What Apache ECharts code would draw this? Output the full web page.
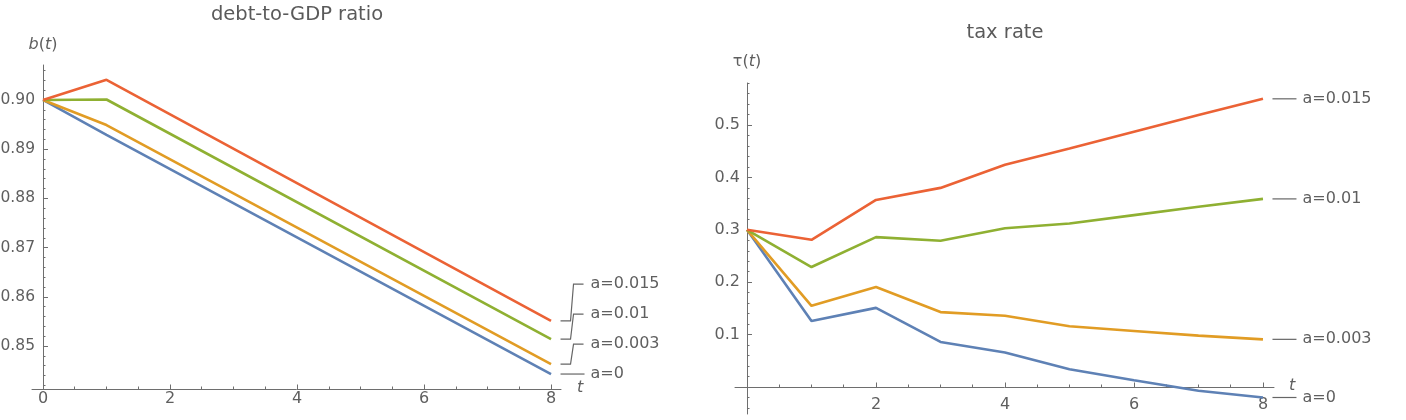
<!DOCTYPE html>
<html>
<head>
<meta charset="utf-8">
<script src="https://cdn.jsdelivr.net/npm/echarts@6/dist/echarts.min.js"></script>
<style>
  html, body { margin: 0; padding: 0; background: #fff; }
  #chart { width: 1406px; height: 420px; }
</style>
</head>
<body>
<div id="chart"></div>
<script>
// ---------- data ----------
const seriesNames = ['a=0', 'a=0.003', 'a=0.01', 'a=0.015'];
const seriesColors = ['#5E81B5', '#E19C24', '#8FB032', '#EB6235'];

// debt-to-GDP ratio b(t) (straight segments: vertices at t = 0, 1, 8)
const tDebt = [0, 1, 8];
const debtA0    = [0.9000, 0.8929, 0.8443];
const debtA003  = [0.9000, 0.8949, 0.8463];
const debtA01   = [0.9000, 0.9001, 0.8514];
const debtA015  = [0.9000, 0.9041, 0.8551];

// tax rate tau(t)
const tTax = [0, 1, 2, 3, 4, 5, 6, 7, 8];
const taxA0   = [0.300, 0.126, 0.151, 0.086, 0.066, 0.034, 0.013, -0.007, -0.020];
const taxA003 = [0.300, 0.155, 0.191, 0.143, 0.136, 0.116, 0.107, 0.098, 0.091];
const taxA01  = [0.300, 0.229, 0.286, 0.279, 0.303, 0.312, 0.328, 0.344, 0.359];
const taxA015 = [0.300, 0.281, 0.357, 0.380, 0.424, 0.455, 0.487, 0.519, 0.550];

// tick labels
const debtXTicks = [0, 2, 4, 6, 8];
const debtYTicks = [0.85, 0.86, 0.87, 0.88, 0.89, 0.90];
const taxXTicks = [2, 4, 6, 8];
const taxYTicks = [0.1, 0.2, 0.3, 0.4, 0.5];

// minor tick steps
function steps(from, to, step) {
  const out = [];
  const n = Math.round((to - from) / step);
  for (let i = 0; i <= n; i++) out.push(+(from + i * step).toFixed(6));
  return out;
}
const debtXMinor = steps(0, 8, 0.5);
const debtYMinor = steps(0.842, 0.906, 0.002);
const taxXMinor = steps(0, 8, 0.5);
const taxYMinor = steps(-0.04, 0.58, 0.02);

// ---------- styling ----------
const FONT = '"DejaVu Sans", "Liberation Sans", sans-serif';
const TXT = '#5f5f5f';
const AX = '#6e6e6e';

const chart = echarts.init(document.getElementById('chart'), null, { renderer: 'canvas' });

// full plot frames (axes extend slightly past the data)
const gridLeft = { left: 32, top: 65, width: 529, height: 324 };
const gridRight = { left: 735, top: 83, width: 539, height: 331 };
// label frames: their left/bottom edges sit on the crossing axes (x = 0, tau = 0)
const gridLeftLab = { left: 43, top: 65, width: 518, height: 324 };
const gridRightLab = { left: 747, top: 83, width: 527, height: 304 };

const debtXRange = [-0.173, 8.157];
const debtYRange = [0.84126, 0.90711];
const taxXRange = [-0.186, 8.171];
const taxYRange = [-0.0515, 0.5802];
const debtXRangeLab = [0, 8.157];
const taxXRangeLab = [0, 8.171];
const taxYRangeLab = [0, 0.5802];

function baseAxis(gridIndex, range, position) {
  return { type: 'value', gridIndex, min: range[0], max: range[1], position, splitLine: { show: false } };
}
function lineAxis(gridIndex, range, position, ticks, tickLen, nameRich, nameGap, isX) {
  const a = baseAxis(gridIndex, range, position);
  a.axisLine = { show: true, onZero: true, lineStyle: { color: AX, width: 1 } };
  a.axisTick = { show: true, inside: true, length: tickLen, customValues: ticks, lineStyle: { color: AX, width: 1 } };
  a.axisLabel = { show: false };
  a.name = nameRich; a.nameLocation = 'end'; a.nameGap = nameGap;
  a.nameTextStyle = { color: TXT, fontFamily: FONT, fontSize: 16,
    padding: isX ? [0, 0, 3, 0] : 0,
    rich: { i: { fontStyle: 'italic', color: TXT, fontFamily: FONT, fontSize: 16 } } };
  return a;
}
function minorAxis(gridIndex, range, position, ticks) {
  const a = baseAxis(gridIndex, range, position);
  a.axisLine = { show: false, onZero: true };
  a.axisTick = { show: true, inside: true, length: 2.5, customValues: ticks, lineStyle: { color: AX, width: 1 } };
  a.axisLabel = { show: false };
  return a;
}
function labelAxis(gridIndex, range, position, ticks, margin, fs, fmt) {
  const a = baseAxis(gridIndex, range, position);
  a.axisLine = { show: false, onZero: false };
  a.axisTick = { show: false };
  a.axisLabel = { show: true, customValues: ticks, margin, color: TXT, fontFamily: FONT, fontSize: fs, formatter: fmt };
  return a;
}

function lineSeries(name, xIdx, tArr, vals, color) {
  return {
    type: 'line', name, xAxisIndex: xIdx, yAxisIndex: xIdx,
    data: tArr.map((t, i) => [t, vals[i]]),
    showSymbol: false, symbol: 'none', clip: false,
    lineStyle: { color, width: 2.6 }, itemStyle: { color },
    emphasis: { disabled: true }, silent: true
  };
}

const debtSeries = [debtA0, debtA003, debtA01, debtA015];
const taxSeries = [taxA0, taxA003, taxA01, taxA015];

function gridOf(g) {
  return Object.assign({ containLabel: false, outerBoundsMode: 'none' }, g);
}
const fmtInt = v => String(Math.round(v));

const option = {
  animation: false,
  backgroundColor: '#ffffff',
  title: [
    { text: 'debt-to-GDP ratio', left: 297, top: 5, textAlign: 'center', padding: 0,
      textStyle: { color: '#5a5a5a', fontFamily: FONT, fontSize: 19.5, fontWeight: 'normal' } },
    { text: 'tax rate', left: 1005, top: 23, textAlign: 'center', padding: 0,
      textStyle: { color: '#5a5a5a', fontFamily: FONT, fontSize: 19.5, fontWeight: 'normal' } }
  ],
  grid: [
    gridOf(gridLeft),      // 0 left: lines, major ticks, series
    gridOf(gridLeft),      // 1 left: minor ticks
    gridOf(gridRight),     // 2 right: lines, major ticks, series
    gridOf(gridRight),     // 3 right: minor ticks
    gridOf(gridLeftLab),   // 4 left: tick labels
    gridOf(gridRightLab)   // 5 right: tick labels
  ],
  xAxis: [
    lineAxis(0, debtXRange, 'bottom', debtXTicks, 4.5, '{i|t}', 16, true),
    minorAxis(1, debtXRange, 'bottom', debtXMinor),
    lineAxis(2, taxXRange, 'bottom', taxXTicks, 4.5, '{i|t}', 15, true),
    minorAxis(3, taxXRange, 'bottom', taxXMinor),
    labelAxis(4, debtXRangeLab, 'bottom', debtXTicks, 2, 16, fmtInt),
    labelAxis(5, taxXRangeLab, 'bottom', taxXTicks, 10, 16, fmtInt)
  ],
  yAxis: [
    lineAxis(0, debtYRange, 'left', debtYTicks, 5, '{i|b}({i|t})', 12, false),
    minorAxis(1, debtYRange, 'left', debtYMinor),
    lineAxis(2, taxYRange, 'left', taxYTicks, 5, '\u03C4({i|t})', 13, false),
    minorAxis(3, taxYRange, 'left', taxYMinor),
    labelAxis(4, debtYRange, 'left', debtYTicks, 8, 15.5, v => v.toFixed(2)),
    labelAxis(5, taxYRangeLab, 'left', taxYTicks, 7, 16, v => v.toFixed(1))
  ],
  series: [
    ...debtSeries.map((s, i) => lineSeries(seriesNames[i], 0, tDebt, s, seriesColors[i])),
    ...taxSeries.map((s, i) => lineSeries(seriesNames[i], 2, tTax, s, seriesColors[i]))
  ]
};
chart.setOption(option);

// ---------- end labels with leader lines ----------
function leaders(gridIndex, tArr, list) {
  const ends = list.map((vals, i) => {
    const p = chart.convertToPixel({ gridIndex }, [tArr[tArr.length - 1], vals[vals.length - 1]]);
    return { name: seriesNames[i], x: p[0], y: p[1] };
  });
  ends.sort((a, b) => b.y - a.y);
  let prev = Infinity;
  const out = [];
  ends.forEach(e => {
    const ly = Math.min(e.y, prev - 30);
    prev = ly;
    const x0 = e.x + 9.5;
    const pts = Math.abs(ly - e.y) < 1
      ? [[x0, ly], [x0 + 24, ly]]
      : [[x0, e.y], [x0 + 10, e.y], [x0 + 13, ly], [x0 + 23, ly]];
    out.push({ type: 'polyline', silent: true, shape: { points: pts },
      style: { stroke: '#666666', lineWidth: 1.2, fill: null } });
    out.push({ type: 'text', silent: true, x: x0 + 30, y: ly,
      style: { text: e.name, fill: TXT, fontSize: 16, fontFamily: FONT, verticalAlign: 'middle', align: 'left' } });
  });
  return out;
}
chart.setOption({ graphic: [...leaders(0, tDebt, debtSeries), ...leaders(2, tTax, taxSeries)] });
</script>
</body>
</html>
